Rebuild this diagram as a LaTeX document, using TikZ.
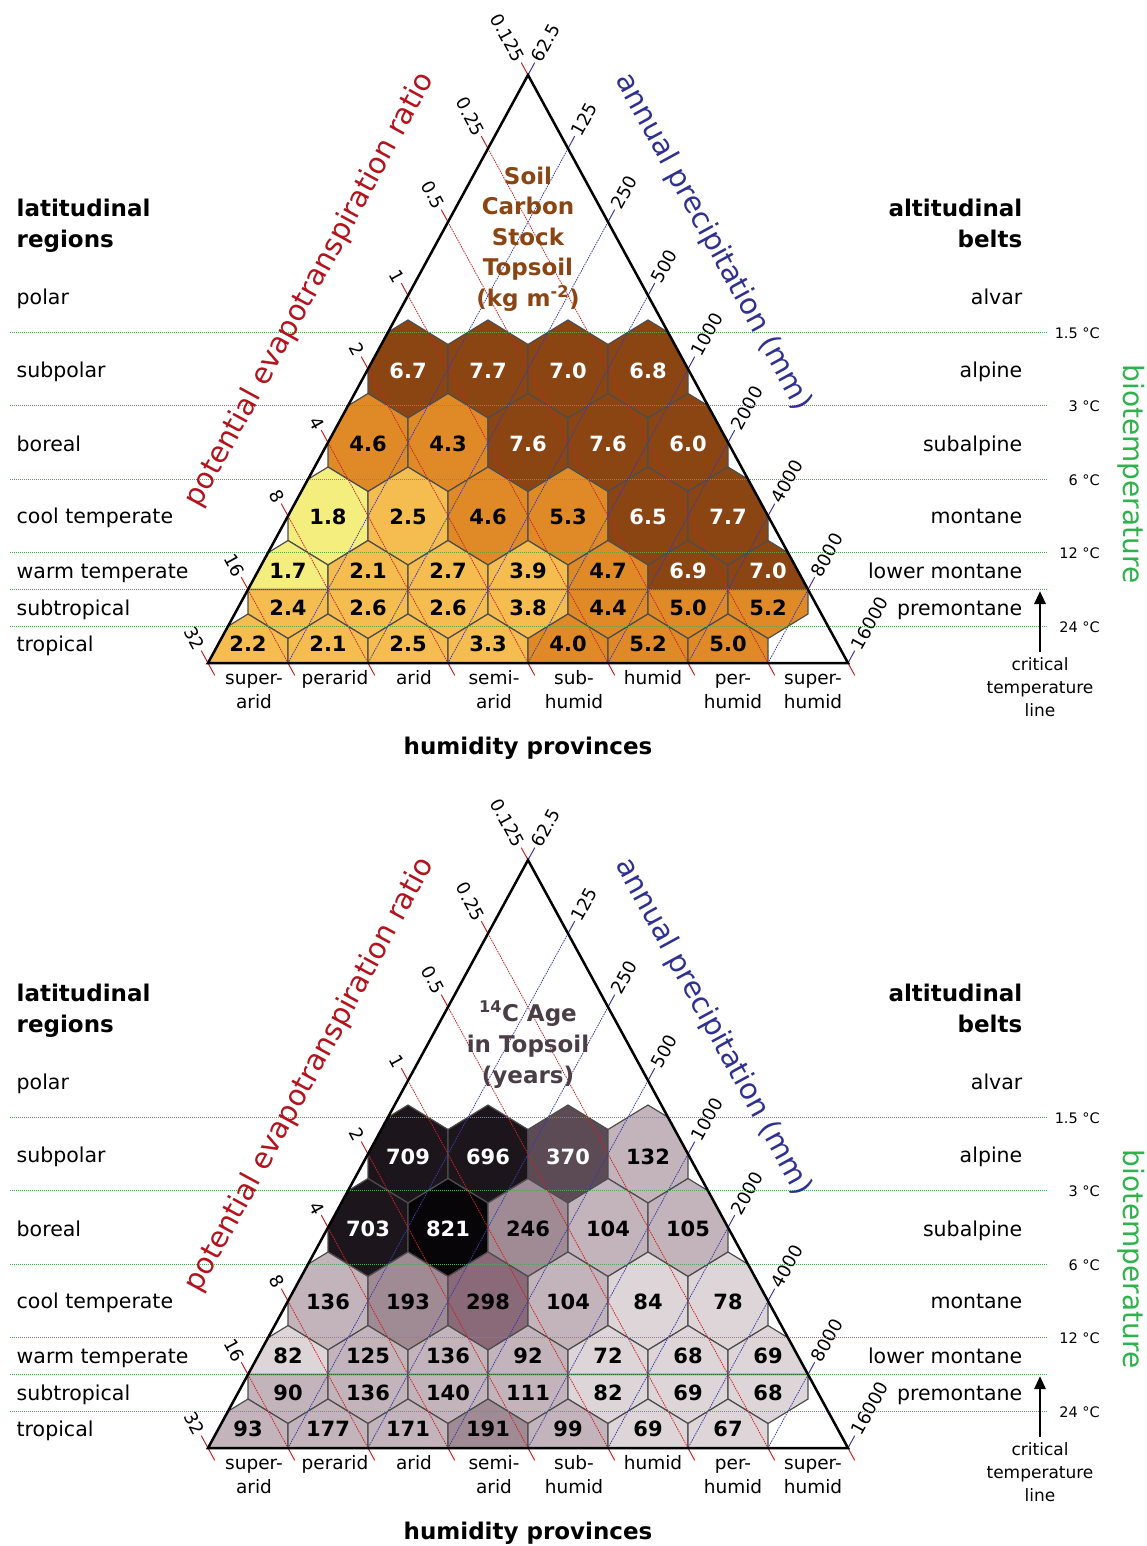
\documentclass[tikz,border=0pt]{standalone}
\usepackage{fontspec}
\setmainfont{DejaVu Sans}
\usetikzlibrary{arrows.meta}
\definecolor{cbrown}{HTML}{8B4513}
\definecolor{corange}{HTML}{DF8A26}
\definecolor{clight}{HTML}{F5BC50}
\definecolor{cyellow}{HTML}{F4EE7F}
\definecolor{mvdark}{HTML}{1C161C}
\definecolor{mblack}{HTML}{080508}
\definecolor{mdark}{HTML}{5C4B55}
\definecolor{mplum}{HTML}{8A6A78}
\definecolor{mmid}{HTML}{A08A94}
\definecolor{mlight}{HTML}{C2B4BA}
\definecolor{mvlight}{HTML}{DDD5D8}
\definecolor{petred}{HTML}{B5121B}
\definecolor{precblue}{HTML}{2E3192}
\definecolor{tempgreen}{HTML}{2DB34A}
\definecolor{greenln}{HTML}{3CB44B}
\definecolor{linered}{HTML}{CC2222}
\definecolor{lineblue}{HTML}{3A3AAA}
\definecolor{hexgray}{HTML}{4D4D4D}
\definecolor{titlebrown}{HTML}{8B4513}
\definecolor{titlegray}{HTML}{4A3D45}
\newcommand\fs[2]{\fontsize{#1}{#2}\selectfont}
\newcommand\hexF[3]{\filldraw[hexline,fill=#3] (#1,#2-49) -- ++(40,24.5) -- ++(0,49) -- ++(-40,24.5) -- ++(-40,-24.5) -- ++(0,-49) -- cycle;}
\newcommand\hexU[3]{\filldraw[hexline,fill=#3] (#1-40,#2) -- ++(0,-24.5) -- ++(40,-24.5) -- ++(40,24.5) -- ++(0,24.5) -- cycle;}
\newcommand\hexL[3]{\filldraw[hexline,fill=#3] (#1-40,#2) -- ++(0,24.5) -- ++(40,24.5) -- ++(40,-24.5) -- ++(0,-24.5) -- cycle;}
\tikzset{
 hexline/.style={draw=hexgray, line width=1.2pt, line join=miter},
 redline/.style={draw=linered, line width=0.8pt, dash pattern=on 1.5pt off 1pt},
 blueline/.style={draw=lineblue, line width=0.8pt, dash pattern=on 1.5pt off 1pt},
 redtick/.style={draw=linered, line width=1pt},
 bluetick/.style={draw=lineblue, line width=1pt},
 greenline/.style={draw=greenln, line width=1pt, dash pattern=on 1pt off 1pt},
 hexval/.style={font=\fs{21}{25}\bfseries, inner sep=0},
 ticklab/.style={font=\fs{18}{20}, inner sep=2pt},
 zonelab/.style={font=\fs{20.5}{25}, inner sep=0},
 headlab/.style={font=\fs{23}{31}\bfseries, inner sep=0},
 humlab/.style={font=\fs{18.5}{24}, inner sep=0, align=center, anchor=north},
 templab/.style={font=\fs{14.5}{17}, inner sep=0, anchor=base east},
}
\def\toplist{%
F/408/369/371/cbrown/6.7/white,%
F/488/369/371/cbrown/7.7/white,%
F/568/369/371/cbrown/7.0/white,%
F/648/369/371/cbrown/6.8/white,%
F/368/442.5/443.5/corange/4.6/black,%
F/448/442.5/443.5/corange/4.3/black,%
F/528/442.5/443.5/cbrown/7.6/white,%
F/608/442.5/443.5/cbrown/7.6/white,%
F/688/442.5/443.5/cbrown/6.0/white,%
F/328/516/516.5/cyellow/1.8/black,%
F/408/516/516.5/clight/2.5/black,%
F/488/516/516.5/corange/4.6/black,%
F/568/516/516.5/corange/5.3/black,%
F/648/516/516.5/cbrown/6.5/white,%
F/728/516/516.5/cbrown/7.7/white,%
U/288/589.5/571/cyellow/1.7/black,%
U/368/589.5/571/clight/2.1/black,%
U/448/589.5/571/clight/2.7/black,%
U/528/589.5/571/clight/3.9/black,%
U/608/589.5/571/corange/4.7/black,%
U/688/589.5/571/cbrown/6.9/white,%
U/768/589.5/571/cbrown/7.0/white,%
L/288/589.5/608/clight/2.4/black,%
L/368/589.5/608/clight/2.6/black,%
L/448/589.5/608/clight/2.6/black,%
L/528/589.5/608/clight/3.8/black,%
L/608/589.5/608/corange/4.4/black,%
L/688/589.5/608/corange/5.0/black,%
L/768/589.5/608/corange/5.2/black,%
U/248/663/644/clight/2.2/black,%
U/328/663/644/clight/2.1/black,%
U/408/663/644/clight/2.5/black,%
U/488/663/644/clight/3.3/black,%
U/568/663/644/corange/4.0/black,%
U/648/663/644/corange/5.2/black,%
U/728/663/644/corange/5.0/black}
\def\botlist{%
F/408/369/372/mvdark/709/white,%
F/488/369/372/mvdark/696/white,%
F/568/369/372/mdark/370/white,%
F/648/369/372/mlight/132/black,%
F/368/442.5/444/mvdark/703/white,%
F/448/442.5/444/mblack/821/white,%
F/528/442.5/444/mmid/246/black,%
F/608/442.5/444/mlight/104/black,%
F/688/442.5/444/mlight/105/black,%
F/328/516/517/mlight/136/black,%
F/408/516/517/mmid/193/black,%
F/488/516/517/mplum/298/black,%
F/568/516/517/mlight/104/black,%
F/648/516/517/mvlight/84/black,%
F/728/516/517/mvlight/78/black,%
U/288/589.5/571/mvlight/82/black,%
U/368/589.5/571/mlight/125/black,%
U/448/589.5/571/mlight/136/black,%
U/528/589.5/571/mlight/92/black,%
U/608/589.5/571/mvlight/72/black,%
U/688/589.5/571/mvlight/68/black,%
U/768/589.5/571/mvlight/69/black,%
L/288/589.5/608/mlight/90/black,%
L/368/589.5/608/mlight/136/black,%
L/448/589.5/608/mlight/140/black,%
L/528/589.5/608/mlight/111/black,%
L/608/589.5/608/mvlight/82/black,%
L/688/589.5/608/mvlight/69/black,%
L/768/589.5/608/mvlight/68/black,%
U/248/663/644/mlight/93/black,%
U/328/663/644/mlight/177/black,%
U/408/663/644/mlight/171/black,%
U/488/663/644/mmid/191/black,%
U/568/663/644/mlight/99/black,%
U/648/663/644/mvlight/69/black,%
U/728/663/644/mvlight/67/black}
\newcommand\holdpanel[2]{%
 \begin{scope}
  \clip (528,75) -- (848,663) -- (208,663) -- cycle;
  \foreach \ty/\cx/\cy/\ly/\col/\val/\tc in #2 {\csname hex\ty\endcsname{\cx}{\cy}{\col}}
 \end{scope}
 \foreach \k in {1,...,7} {\draw[redline] ({528-40*\k},{75+73.5*\k}) -- ({848-80*\k},663);}
 \foreach \k in {1,...,7} {\draw[blueline] ({528+40*\k},{75+73.5*\k}) -- ({208+80*\k},663);}
 \foreach \k in {0,...,8} {\draw[redtick] ({848-80*\k},663) -- ++(6.7,12.3);}
 \foreach \k/\ll/\rl in {0/0.125/62.5,1/0.25/125,2/0.5/250,3/1/500,4/2/1000,5/4/2000,6/8/4000,7/16/8000,8/32/16000} {
  \draw[redtick] ({528-40*\k},{75+73.5*\k}) -- ++(-6.7,-12.3) node[ticklab, anchor=east, rotate=-61.4] (#1l\k) {\ll};
  \draw[bluetick] ({528+40*\k},{75+73.5*\k}) -- ++(6.7,-12.3) node[ticklab, anchor=west, rotate=61.4] (#1r\k) {\rl};
 }
 \foreach \yy in {332.25,405.75,479.25,552.75,589.5,626.25} {\draw[greenline] (10,\yy) -- (1047,\yy);}
 \draw[line width=2.5pt, line join=miter] (528,75) -- (848,663) -- (208,663) -- cycle;
 \foreach \ty/\cx/\cy/\ly/\col/\val/\tc [count=\i] in #2 {\node[hexval, text=\tc] (#1v\i) at (\cx,\ly) {\val};}
 % temperatures
 \node[templab] (#1t1) at (1100,338) {1.5 °C};
 \node[templab] (#1t2) at (1100,411.5) {3 °C};
 \node[templab] (#1t3) at (1100,485) {6 °C};
 \node[templab] (#1t4) at (1100,558.5) {12 °C};
 \node[templab] (#1t5) at (1100,632) {24 °C};
 % axis titles
 \node[font=\fs{29}{32}, text=petred, rotate=61.4, inner sep=0] (#1pet) at (310,290) {potential evapotranspiration ratio};
 \node[font=\fs{29}{32}, text=precblue, rotate=-61.4, inner sep=0] (#1prec) at (713,242) {annual precipitation (mm)};
 \node[font=\fs{28}{30}, text=tempgreen, rotate=-90, inner sep=0] (#1bio) at (1131,474) {biotemperature};
 % left labels
 \node[headlab, align=left, anchor=north west] (#1lat) at (16.5,194.5) {\strut latitudinal\\\strut regions};
 \node[zonelab, anchor=base west] (#1z1) at (16.5,304) {polar};
 \node[zonelab, anchor=base west] (#1z2) at (16.5,377) {subpolar};
 \node[zonelab, anchor=base west] (#1z3) at (16.5,451) {boreal};
 \node[zonelab, anchor=base west] (#1z4) at (16.5,523) {cool temperate};
 \node[zonelab, anchor=base west] (#1z5) at (16.5,578) {warm temperate};
 \node[zonelab, anchor=base west] (#1z6) at (16.5,615) {subtropical};
 \node[zonelab, anchor=base west] (#1z7) at (16.5,651) {tropical};
 % right labels
 \node[headlab, align=right, anchor=north east] (#1alt) at (1022.5,194.5) {\strut altitudinal\\\strut belts};
 \node[zonelab, anchor=base east] (#1b1) at (1022.5,304) {alvar};
 \node[zonelab, anchor=base east] (#1b2) at (1022.5,377) {alpine};
 \node[zonelab, anchor=base east] (#1b3) at (1022.5,451) {subalpine};
 \node[zonelab, anchor=base east] (#1b4) at (1022.5,523) {montane};
 \node[zonelab, anchor=base east] (#1b5) at (1022.5,578) {lower montane};
 \node[zonelab, anchor=base east] (#1b6) at (1022.5,615) {premontane};
 % humidity provinces
 \node[humlab] (#1h1) at (254,667) {\strut super-\\\strut arid};
 \node[humlab] (#1h2) at (335,667) {\strut perarid};
 \node[humlab] (#1h3) at (414,667) {\strut arid};
 \node[humlab] (#1h4) at (494,667) {\strut semi-\\\strut arid};
 \node[humlab] (#1h5) at (574,667) {\strut sub-\\\strut humid};
 \node[humlab] (#1h6) at (653,667) {\strut humid};
 \node[humlab] (#1h7) at (733,667) {\strut per-\\\strut humid};
 \node[humlab] (#1h8) at (813,667) {\strut super-\\\strut humid};
 \node[headlab, anchor=base] (#1hp) at (528,754) {humidity provinces};
 % critical temperature line
 \node[font=\fs{17}{23}, align=center, anchor=north, inner sep=0] (#1crit) at (1040,654) {\strut critical\\\strut temperature\\\strut line};
 \coordinate (#1critT) at (1040,591);
 \draw[line width=2.8pt, -{Triangle[length=13pt,width=11pt]}, shorten <=2pt] (#1crit.north) -- (#1critT);
}
\begin{document}
\begin{tikzpicture}[x=1pt,y=-1pt]
\fill[white] (0,0) rectangle (1147,1546);
\useasboundingbox (0,0) rectangle (1147,1546);
\holdpanel{a}{\toplist}
\node[headlab, font=\fs{23}{30.5}\bfseries, align=center, anchor=north, text=titlebrown] (atitle) at (528,162.5) {\strut Soil\\\strut Carbon\\\strut Stock\\\strut Topsoil\\\strut (kg m\textsuperscript{-2})};
\begin{scope}[shift={(0,785)}]
\holdpanel{b}{\botlist}
\node[headlab, font=\fs{23}{31}\bfseries, align=center, anchor=north, text=titlegray] (btitle) at (528,214.5) {\strut \textsuperscript{14}C Age\\\strut in Topsoil\\\strut (years)};
\end{scope}
\end{tikzpicture}
\end{document}
